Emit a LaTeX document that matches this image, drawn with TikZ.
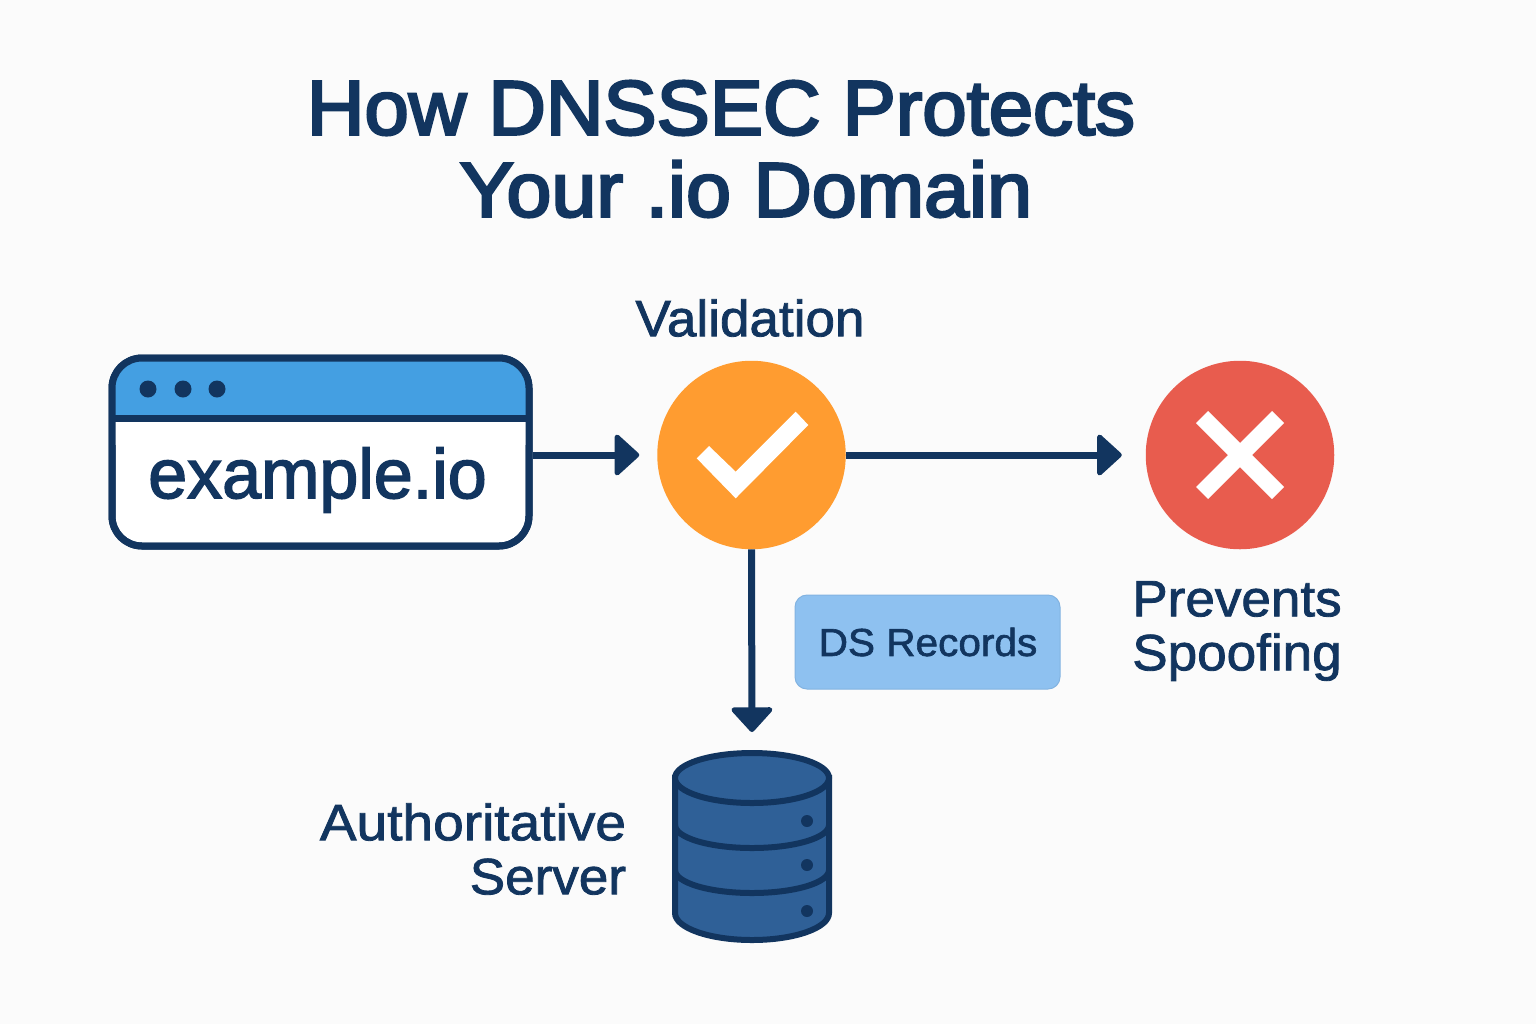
\documentclass[tikz,border=0pt]{standalone}
\usepackage{fontspec}
\setmainfont{Liberation Sans}
\newfontfamily\titlefontA[FakeBold=3.4,FakeStretch=1.035]{Liberation Sans}
\newfontfamily\titlefontB[FakeBold=3.4,FakeStretch=1.05]{Liberation Sans}
\newfontfamily\labelfont[FakeBold=1.6,FakeStretch=1.04]{Liberation Sans}
\newfontfamily\labelfontW[FakeBold=1.6,FakeStretch=1.08]{Liberation Sans}
\newfontfamily\domainfont[FakeBold=2.2]{Liberation Sans}
\usetikzlibrary{arrows.meta}
\definecolor{navy}{HTML}{12355F}
\definecolor{pagebg}{HTML}{FBFBFB}
\definecolor{hdrblue}{HTML}{449FE2}
\definecolor{okorange}{HTML}{FF9C30}
\definecolor{badred}{HTML}{E85C4E}
\definecolor{dsblue}{HTML}{8EC1F0}
\definecolor{dbblue}{HTML}{2F6097}
\tikzset{
  x=0.5pt,y=-0.5pt,
  conn/.style={draw=navy,line width=3.5pt,shorten >=9pt,
    -{Triangle[width=23pt,length=13pt,line width=2.5pt,round]}},
  disc/.style={circle,minimum size=94.25pt,inner sep=0pt,outer sep=0pt},
  txt/.style={text=navy,inner sep=0pt,outer sep=0pt},
  ttlA/.style={txt,font=\titlefontA\fontsize{38.5pt}{40.5pt}\selectfont},
  ttlB/.style={txt,font=\titlefontB\fontsize{38.5pt}{40.5pt}\selectfont},
  lbl/.style={txt,font=\labelfont\fontsize{25.5pt}{27pt}\selectfont},
  crossmark/.style={draw=white,line width=8.5pt},
  dbline/.style={draw=navy,line width=3pt},
}
\begin{document}
\begin{tikzpicture}
\fill[pagebg] (0,0) rectangle (1536,1024);
\useasboundingbox (0,0) rectangle (1536,1024);
% title
\node[ttlA] (titleA) at (721,108) {How DNSSEC Protects};
\node[ttlB] (titleB) at (746,189) {Your .io Domain};
% browser window
\node[draw=navy,fill=white,line width=3.5pt,rounded corners=15pt,minimum width=208.5pt,minimum height=94pt,inner sep=0pt] (browser) at (320.5,452) {};
\fill[hdrblue,rounded corners=13pt] (115,361) rectangle (526,440);
\fill[white] (115,418) rectangle (526,445);
\draw[navy,line width=3.5pt,rounded corners=15pt] (112,358) rectangle (529,546);
\draw[navy,line width=3.5pt] (112,418) -- (529,418);
\fill[navy] (148,389) circle[radius=4.25pt] (183,389) circle[radius=4.25pt] (217,389) circle[radius=4.25pt];
\node[txt,font=\domainfont\fontsize{35pt}{37pt}\selectfont] (domain) at (317.5,480) {example.io};
% validation
\node[lbl] (vallabel) at (750,318) {Validation};
\node[disc,fill=okorange] (val) at (751.5,455) {};
\fill[white] (696.7,458.3) -- (709,446) -- (735.7,471.7) -- (795.7,411.7) -- (808.3,425) -- (735.7,498.3) -- cycle;
% spoof
\node[disc,fill=badred] (bad) at (1240,455) {};
\draw[crossmark] (1202,417) -- (1278,493) (1278,417) -- (1202,493);
\node[lbl,align=center] (badlabel) at (1237,631) {Prevents\\Spoofing};
% DS record
\node[draw=dsblue!90!navy,line width=0.5pt,fill=dsblue,rounded corners=6pt,minimum width=132.5pt,minimum height=47pt,inner sep=0pt] (ds) at (927.5,642) {};
\node[txt,font=\labelfont\fontsize{19.5pt}{21pt}\selectfont] (dstext) at (928,642) {DS Records};
% database
\coordinate (db) at (752,750);
\filldraw[fill=dbblue,draw=navy,line width=3pt] (675,778) -- (675,913) arc[start angle=180,end angle=360,x radius=38.5pt,y radius=13.5pt] -- (829,778) -- cycle;
\filldraw[fill=dbblue,draw=navy,line width=3pt] (752,778) ellipse[x radius=38.5pt,y radius=12.5pt];
\draw[dbline] (675,825) arc[start angle=180,end angle=360,x radius=38.5pt,y radius=11.5pt];
\draw[dbline] (675,870) arc[start angle=180,end angle=360,x radius=38.5pt,y radius=11.5pt];
\fill[navy] (807,821) circle[radius=3pt] (807,865) circle[radius=3pt] (807,911) circle[radius=3pt];
\node[lbl,align=right,anchor=east] (dblabel) at (626,849) {{\labelfontW Authoritative}\\Server};
% connectors
\draw[conn] (browser.east |- val.west) -- (val.west);
\draw[conn,shorten >=12pt] (val.east) -- (bad.west);
\draw[conn] (val.south) -- (db);
\end{tikzpicture}
\end{document}
